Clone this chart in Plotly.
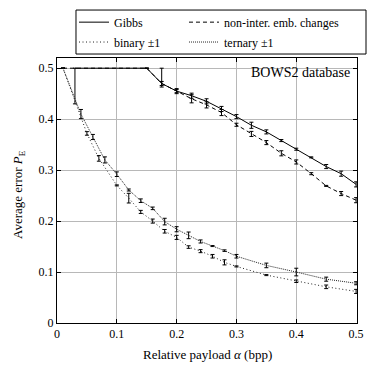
import plotly.graph_objects as go

# ---- data ----
gibbs_x = [0.03, 0.15, 0.175, 0.2, 0.225, 0.25, 0.275, 0.3, 0.325, 0.35, 0.375, 0.4, 0.425, 0.45, 0.475, 0.5]
gibbs_y = [0.5, 0.5, 0.47, 0.455, 0.446, 0.435, 0.42, 0.405, 0.388, 0.375, 0.358, 0.341, 0.325, 0.307, 0.293, 0.272]
gibbs_err_plus = [0, 0, 0.03, 0.005, 0.005, 0.005, 0.005, 0.004, 0.006, 0.004, 0.002, 0.002, 0.001, 0.004, 0.005, 0.005]
gibbs_err_minus = [0.07, 0, 0.007, 0.005, 0.005, 0.005, 0.005, 0.004, 0.006, 0.004, 0.002, 0.002, 0.001, 0.004, 0.005, 0.005]

nonint_x = [0.01, 0.15, 0.175, 0.2, 0.225, 0.25, 0.275, 0.3, 0.325, 0.35, 0.375, 0.4, 0.425, 0.45, 0.475, 0.5]
nonint_y = [0.5, 0.5, 0.47, 0.455, 0.44, 0.428, 0.413, 0.389, 0.371, 0.354, 0.333, 0.316, 0.293, 0.269, 0.254, 0.241]
nonint_err = [0, 0, 0.004, 0.003, 0.008, 0.006, 0.006, 0.003, 0.005, 0.004, 0.005, 0.004, 0.002, 0.001, 0.004, 0.005]

binary_x = [0.01, 0.05, 0.07, 0.1, 0.12, 0.14, 0.16, 0.18, 0.2, 0.22, 0.24, 0.26, 0.28, 0.3, 0.35, 0.4, 0.45, 0.5]
binary_y = [0.5, 0.372, 0.323, 0.27, 0.245, 0.218, 0.2, 0.18, 0.168, 0.149, 0.141, 0.131, 0.119, 0.111, 0.094, 0.082, 0.071, 0.062]
binary_err = [0, 0.0035, 0.0055, 0.001, 0.0095, 0.003, 0.004, 0.0035, 0.004, 0.0025, 0.003, 0.0035, 0.005, 0.001, 0.001, 0.0025, 0.0035, 0.004]

ternary_x = [0.01, 0.04, 0.06, 0.08, 0.1, 0.12, 0.14, 0.16, 0.18, 0.2, 0.22, 0.24, 0.26, 0.28, 0.3, 0.35, 0.4, 0.45, 0.5]
ternary_y = [0.5, 0.41, 0.365, 0.32, 0.292, 0.261, 0.24, 0.225, 0.199, 0.184, 0.172, 0.16, 0.151, 0.142, 0.131, 0.113, 0.1, 0.086, 0.078]
ternary_err = [0, 0.009, 0.005, 0.006, 0.0045, 0.002, 0.0035, 0.0025, 0.0065, 0.005, 0.0065, 0.003, 0.001, 0.0015, 0.0035, 0.0045, 0.0075, 0.004, 0.003]

tick_vals = [0, 0.1, 0.2, 0.3, 0.4, 0.5]
tick_text = ["0", "0.1", "0.2", "0.3", "0.4", "0.5"]

FONT = "Liberation Serif"

def ebar(arr, arrminus=None):
    d = dict(type="data", array=arr, color="black", thickness=1, width=2, visible=True)
    if arrminus is not None:
        d["symmetric"] = False
        d["arrayminus"] = arrminus
    return d

fig = go.Figure()
fig.add_trace(go.Scatter(x=gibbs_x, y=gibbs_y, mode="lines", name="Gibbs",
                         line=dict(color="black", width=1, dash="solid"),
                         error_y=ebar(gibbs_err_plus, gibbs_err_minus), legend="legend"))
fig.add_trace(go.Scatter(x=nonint_x, y=nonint_y, mode="lines", name="non-inter. emb. changes",
                         line=dict(color="black", width=1, dash="4px,3px"),
                         error_y=ebar(nonint_err), legend="legend2"))
fig.add_trace(go.Scatter(x=binary_x, y=binary_y, mode="lines", name="binary ±1",
                         line=dict(color="#222222", width=1, dash="1px,2.5px"),
                         error_y=ebar(binary_err), legend="legend3"))
fig.add_trace(go.Scatter(x=ternary_x, y=ternary_y, mode="lines", name="ternary ±1",
                         line=dict(color="#222222", width=1, dash="1px,1px"),
                         error_y=ebar(ternary_err), legend="legend4"))

axis_common = dict(
    showgrid=True, gridcolor="#b8b8b8", gridwidth=1,
    showline=True, linecolor="black", linewidth=1, mirror="ticks",
    ticks="inside", ticklen=4, tickcolor="black", tickwidth=1,
    zeroline=False, tickfont=dict(family=FONT, size=12, color="black"),
    tickmode="array", tickvals=tick_vals, ticktext=tick_text,
)

leg_font = dict(family=FONT, size=12, color="black")
def leg(x, y):
    return dict(orientation="h", x=x, xanchor="left", y=y, yanchor="top",
                bgcolor="rgba(0,0,0,0)", borderwidth=0, font=leg_font, visible=True)

fig.update_layout(
    width=368, height=357,
    margin=dict(l=49, r=19, t=50, b=42, autoexpand=False),
    paper_bgcolor="white", plot_bgcolor="white",
    font=dict(family=FONT, size=12, color="black"),
    showlegend=True,
    xaxis=dict(range=[0, 0.5015], **axis_common),
    yaxis=dict(range=[0, 0.52], **axis_common),
    legend=leg(0.0567, 1.19),
    legend2=leg(0.4233, 1.19),
    legend3=leg(0.0567, 1.115),
    legend4=leg(0.4233, 1.115),
    shapes=[dict(type="rect", xref="paper", yref="paper",
                 x0=0.0633, x1=1.03, y0=1.015, y1=1.181,
                 line=dict(color="black", width=1), fillcolor="rgba(0,0,0,0)")],
    annotations=[
        dict(text="BOWS2 database", xref="paper", yref="paper", x=0.983, y=0.947,
             xanchor="right", yanchor="middle", showarrow=False,
             font=dict(family=FONT, size=14, color="black")),
        dict(text="Relative payload <i>α</i> (bpp)", xref="paper", yref="paper", x=0.5, y=-0.117,
             xanchor="center", yanchor="middle", showarrow=False,
             font=dict(family=FONT, size=13, color="black")),
        dict(text="Average error <i>P</i><sub>E</sub>", xref="paper", yref="paper", x=-0.13, y=0.483,
             xanchor="center", yanchor="middle", showarrow=False, textangle=-90,
             font=dict(family=FONT, size=13, color="black")),
    ],
)

fig.write_html("out.html")
